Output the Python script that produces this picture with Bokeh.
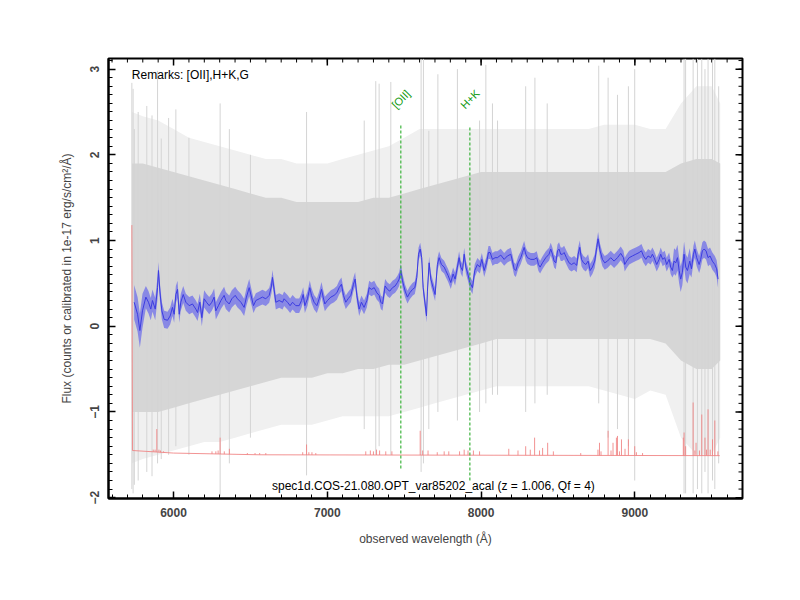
import numpy as np
from bokeh.plotting import figure
from bokeh.models import FixedTicker, Range1d, Label, ColumnDataSource
from bokeh.embed import file_html
from bokeh.resources import INLINE
from bokeh.core.properties import value

FONT = "Liberation Sans"

# ---------------- data ----------------
# smoothed spectrum (blue)
smooth_wave = [5744, 5766, 5781, 5798, 5820, 5837, 5852, 5863, 5881, 5896, 5902, 5911, 5924, 5939, 5961, 5978, 5993,
               6004, 6015, 6026, 6037, 6047, 6063, 6080, 6102, 6123, 6145, 6156, 6171, 6184, 6199, 6214, 6232, 6249,
               6264, 6275, 6292, 6308, 6329, 6340, 6362, 6379, 6401, 6416, 6438, 6459, 6474, 6492,
               6520, 6535, 6557, 6578, 6600, 6622, 6637, 6643, 6654, 6665, 6687, 6709, 6719, 6741, 6758, 6774, 6795,
               6817, 6832, 6843, 6854, 6871, 6886, 6897, 6914, 6932, 6947, 6962, 6973, 6984, 7001, 7023, 7044, 7062,
               7077, 7092, 7105, 7120, 7135, 7153, 7170, 7181, 7192, 7207, 7222, 7239, 7257, 7272, 7287, 7305, 7322,
               7337, 7348, 7359, 7376, 7391, 7406, 7424, 7441, 7456, 7467, 7478, 7489, 7506, 7521, 7536, 7554, 7569,
               7582, 7593, 7604, 7614, 7623, 7636, 7645, 7651, 7662, 7673, 7688, 7701, 7716, 7727, 7742, 7760, 7770,
               7786, 7803, 7818, 7831, 7846, 7857, 7868, 7879, 7890, 7901, 7914, 7927, 7944, 7959, 7976, 7992, 8005,
               8020, 8035, 8048, 8059, 8074, 8091, 8106, 8128, 8150, 8171, 8193, 8204, 8215, 8226, 8241, 8258, 8269,
               8280, 8291, 8302, 8323, 8345, 8362, 8373, 8384, 8399, 8421, 8442, 8453, 8464, 8475, 8486, 8497, 8507,
               8518, 8529, 8540, 8555, 8572, 8588, 8605, 8622, 8631, 8642, 8653, 8666, 8681, 8696, 8709, 8724, 8739,
               8752, 8761, 8774, 8789, 8804, 8822, 8843, 8865, 8887, 8908, 8926, 8934, 8947, 8963, 8984, 9006, 9028,
               9043, 9056, 9071, 9086, 9103, 9114, 9125, 9142, 9158, 9168, 9181, 9194, 9207, 9223, 9233, 9244, 9255,
               9266, 9277, 9288, 9298, 9309, 9320, 9331, 9342, 9357, 9368, 9381, 9390, 9402, 9418, 9428, 9439, 9450,
               9463, 9476, 9489, 9504, 9520, 9532, 9541]
smooth_flux = [0.28, 0.14, -0.05, 0.18, 0.34, 0.28, 0.20, 0.30, 0.20, 0.45, 0.65, 0.41, 0.18, 0.08, 0.07, 0.12, 0.22,
               0.14, 0.37, 0.43, 0.14, 0.28, 0.37, 0.28, 0.24, 0.26, 0.20, 0.16, 0.28, 0.10, 0.32, 0.28, 0.24, 0.28,
               0.34, 0.18, 0.24, 0.30, 0.36, 0.30, 0.26, 0.32, 0.36, 0.32, 0.28, 0.22, 0.34, 0.45,
               0.24, 0.30, 0.32, 0.34, 0.32, 0.36, 0.47, 0.57, 0.43, 0.28, 0.30, 0.28, 0.32, 0.28, 0.24, 0.28, 0.24,
               0.24, 0.30, 0.37, 0.24, 0.32, 0.45, 0.36, 0.28, 0.24, 0.32, 0.43, 0.34, 0.26, 0.30, 0.34, 0.36, 0.39,
               0.45, 0.49, 0.36, 0.28, 0.32, 0.36, 0.49, 0.55, 0.36, 0.20, 0.28, 0.22, 0.30, 0.45, 0.43, 0.45, 0.39,
               0.36, 0.28, 0.26, 0.47, 0.43, 0.41, 0.45, 0.47, 0.51, 0.55, 0.65, 0.53, 0.41, 0.34, 0.39, 0.43, 0.45,
               0.57, 0.84, 0.90, 0.80, 0.45, 0.26, 0.12, 0.41, 0.74, 0.55, 0.45, 0.37, 0.72, 0.80, 0.72, 0.69, 0.65,
               0.59, 0.51, 0.61, 0.55, 0.69, 0.80, 0.69, 0.65, 0.84, 0.69, 0.61, 0.51, 0.45, 0.65, 0.72, 0.69, 0.78,
               0.65, 0.74, 0.86, 0.86, 0.78, 0.80, 0.80, 0.83, 0.78, 0.82, 0.84, 0.76, 0.67, 0.65, 0.74, 0.80, 0.86,
               0.92, 0.84, 0.80, 0.78, 0.78, 0.80, 0.72, 0.69, 0.74, 0.80, 0.84, 0.90, 0.84, 0.76, 0.74, 0.88, 0.90,
               0.84, 0.84, 0.86, 0.80, 0.74, 0.72, 0.74, 0.71, 0.84, 0.92, 0.78, 0.74, 0.72, 0.76, 0.65, 0.69, 0.76,
               0.92, 1.02, 0.88, 0.78, 0.74, 0.76, 0.80, 0.76, 0.80, 0.85, 0.80, 0.72, 0.76, 0.80, 0.82, 0.84, 0.86,
               0.88, 0.82, 0.78, 0.82, 0.80, 0.84, 0.80, 0.72, 0.78, 0.84, 0.78, 0.80, 0.72, 0.78, 0.69, 0.65, 0.76,
               0.74, 0.80, 0.65, 0.55, 0.63, 0.84, 0.69, 0.65, 0.76, 0.67, 0.84, 0.90, 0.80, 0.72, 0.78, 0.88, 0.90,
               0.88, 0.80, 0.82, 0.76, 0.72, 0.67, 0.55]
# half-width of the blue band, per wavelength segment
err_edges = [5740, 5800, 5900, 6500, 7000, 7500, 8500, 9250, 9360, 9560]
err_values = [0.20, 0.13, 0.10, 0.085, 0.08, 0.075, 0.08, 0.15, 0.10]

# raw spectrum (grey): dense core and sparse outer envelope
grey_wave = [5730, 5800, 5900, 6000, 6100, 6200, 6300, 6400, 6500, 6600, 6700, 6800, 6900, 7000, 7100, 7200,
             7300, 7400, 7500, 7600, 7700, 7800, 7900, 8000, 8100, 8200, 8300, 8400, 8500, 8600, 8700, 8800,
             8900, 9000, 9100, 9200, 9300, 9400, 9500, 9555]
grey_core_lo = [-1.00, -1.00, -1.00, -0.95, -0.90, -0.85, -0.80, -0.75, -0.70, -0.65, -0.60, -0.60, -0.60, -0.55,
                -0.55, -0.50, -0.50, -0.45, -0.45, -0.40, -0.35, -0.30, -0.25, -0.20, -0.15, -0.15, -0.15, -0.15,
                -0.15, -0.15, -0.15, -0.15, -0.15, -0.15, -0.15, -0.20, -0.40, -0.50, -0.50, -0.40]
grey_core_hi = [1.90, 1.90, 1.85, 1.80, 1.75, 1.70, 1.65, 1.60, 1.55, 1.50, 1.50, 1.45, 1.45, 1.45, 1.45, 1.45,
                1.50, 1.50, 1.55, 1.60, 1.65, 1.70, 1.75, 1.80, 1.80, 1.80, 1.80, 1.80, 1.80, 1.80, 1.80, 1.80,
                1.80, 1.80, 1.80, 1.80, 1.90, 1.95, 1.95, 1.90]
grey_outer_lo = [-1.60, -1.55, -1.50, -1.45, -1.40, -1.35, -1.35, -1.30, -1.25, -1.20, -1.15, -1.15, -1.15, -1.10,
                 -1.05, -1.05, -1.05, -1.05, -1.00, -0.95, -0.90, -0.85, -0.80, -0.75, -0.70, -0.70, -0.70, -0.70,
                 -0.70, -0.70, -0.70, -0.75, -0.80, -0.85, -0.75, -0.80, -1.30, -1.50, -1.50, -1.30]
grey_outer_hi = [2.50, 2.45, 2.40, 2.30, 2.20, 2.15, 2.10, 2.05, 2.00, 1.95, 1.95, 1.90, 1.90, 1.90, 1.95, 2.00,
                 2.05, 2.10, 2.20, 2.30, 2.30, 2.30, 2.30, 2.30, 2.30, 2.30, 2.30, 2.30, 2.30, 2.30, 2.30, 2.35,
                 2.35, 2.35, 2.30, 2.30, 2.60, 2.80, 2.80, 2.60]
# isolated tall grey excursions
spike_wave = [5729, 5737, 5745, 5770, 5826, 5860, 5896, 5920, 5968, 6015, 6100, 6303, 6363, 6500, 6865, 7240,
              7315, 7337, 7413, 7610, 7625, 7660, 7719, 7846, 7990, 8031, 8074, 8107, 8290, 8350, 8430, 8765,
              8826, 8887, 8958, 8999, 9320, 9330, 9379, 9407, 9435, 9456, 9476, 9505, 9520, 9545]
spike_lo = [-1.90, -1.95, -1.85, -1.80, -1.70, -1.75, -1.60, -1.55, -1.50, -1.40, -1.50, -1.98, -1.60, -1.30,
            -1.74, -1.20, -1.50, -1.40, -1.50, -1.70, -1.60, -1.20, -1.00, -1.10, -1.00, -0.90, -0.80, -0.80,
            -1.00, -0.90, -0.80, -0.90, -1.30, -1.20, -1.40, -1.80, -1.95, -1.95, -1.95, -1.90, -1.95, -1.70,
            -1.95, -1.80, -1.90, -1.60]
spike_hi = [2.84, 2.77, 2.30, 2.50, 2.57, 2.46, 2.98, 2.19, 2.43, 2.53, 2.20, 2.60, 2.30, 2.00, 2.50, 2.40,
            2.86, 2.83, 2.85, 3.12, 3.12, 2.28, 2.94, 3.00, 2.40, 3.05, 2.60, 2.40, 2.80, 2.90, 2.60, 3.04,
            2.90, 2.70, 2.80, 3.00, 3.12, 3.12, 3.12, 3.12, 3.12, 3.00, 3.12, 3.10, 3.12, 2.80]

# sky spectrum (red): continuum and emission lines
sky_base_wave = [5729, 5733, 6000, 6560, 9552]
sky_base_flux = [1.18, -1.45, -1.48, -1.50, -1.51]
sky_line_wave = [5868, 5880, 5891, 5905, 5915, 5935, 6250, 6275, 6290, 6303, 6330, 6363, 6480, 6530, 6560, 6600,
                 6840, 6865, 6880, 6900, 6925, 7250, 7280, 7300, 7320, 7340, 7380, 7420, 7604, 7620, 7655, 7715,
                 7760, 7790, 7860, 7890, 7915, 7950, 7990, 8180, 8240, 8290, 8320, 8348, 8380, 8400, 8433, 8470,
                 8648, 8760, 8770, 8780, 8826, 8845, 8858, 8880, 8887, 8900, 8913, 8936, 8958, 8999, 9010, 9050,
                 9315, 9320, 9330, 9379, 9390, 9398, 9420, 9435, 9456, 9466, 9476, 9490, 9505, 9520, 9540]
sky_line_peak = [-1.44, -1.44, -1.20, -1.44, -1.45, -1.46, -1.46, -1.46, -1.45, -1.30, -1.46, -1.43, -1.48, -1.48,
                 -1.48, -1.48, -1.47, -1.38, -1.47, -1.47, -1.48, -1.46, -1.45, -1.46, -1.44, -1.45, -1.46, -1.46,
                 -1.22, -1.45, -1.45, -1.47, -1.46, -1.46, -1.46, -1.44, -1.45, -1.45, -1.46, -1.43, -1.45, -1.40,
                 -1.44, -1.30, -1.45, -1.42, -1.36, -1.46, -1.48, -1.44, -1.36, -1.46, -1.22, -1.45, -1.36, -1.30,
                 -1.28, -1.46, -1.32, -1.43, -1.32, -1.40, -1.47, -1.48, -1.30, -1.24, -1.40, -0.89, -1.45, -1.36,
                 -1.45, -1.03, -1.30, -1.44, -0.97, -1.44, -1.32, -1.10, -1.46]

# identified lines
line_names = ["[OII]", "H+K"]
line_wave = [7478, 7927]
line_top = [2.36, 2.34]
line_bottom = [-1.66, -1.80]

x_ticks = [6000, 7000, 8000, 9000]
y_ticks = [-2, -1, 0, 1, 2, 3]
title_text = "spec1d.COS-21.080.OPT_var85202_acal (z = 1.006, Qf = 4)"
remarks_text = "Remarks: [OII],H+K,G"
x_label = "observed wavelength (Å)"
y_label = "Flux (counts or calibrated in 1e-17 erg/s/cm²/Å)"

# ---------------- figure ----------------
X0, X1 = 5577, 9700
Y0, Y1 = -2.01, 3.124
FW, FH = 634, 440
p = figure(width=792, height=592, x_range=Range1d(X0, X1), y_range=Range1d(Y0, Y1),
           output_backend="svg", toolbar_location=None,
           min_border_left=108, min_border_right=50, min_border_top=58, min_border_bottom=94)
p.grid.visible = False
p.outline_line_color = "black"
p.outline_line_width = 2
p.background_fill_color = "white"

x_minor = list(np.arange(5600, 9701, 100))
y_minor = list(np.round(np.arange(-2.0, 3.15, 0.1), 2))
xt = FixedTicker(ticks=x_ticks, minor_ticks=x_minor)
yt = FixedTicker(ticks=y_ticks, minor_ticks=y_minor)

for ax in (p.xaxis[0], p.yaxis[0]):
    ax.axis_line_width = 2
    ax.axis_line_color = "black"
    ax.major_tick_in = 7
    ax.major_tick_out = 0
    ax.minor_tick_in = 4
    ax.minor_tick_out = 0
    ax.major_tick_line_width = 1.5
    ax.minor_tick_line_width = 1
    ax.major_label_text_font = FONT
    ax.major_label_text_font_style = "bold"
    ax.major_label_text_font_size = "12px"
    ax.axis_label_text_font = FONT
    ax.axis_label_text_font_style = "normal"
    ax.axis_label_text_font_size = "12px"

p.xaxis.ticker = xt
p.yaxis.ticker = yt
p.xaxis.axis_label = x_label
p.yaxis.axis_label = y_label
p.xaxis.major_label_standoff = 9
p.yaxis.major_label_standoff = 9
p.xaxis.axis_label_standoff = 12
p.yaxis.axis_label_standoff = 14
p.yaxis.major_label_orientation = "parallel"

# mirrored inward ticks on the top and right frame edges
dx = (X1 - X0) / FW
dy = (Y1 - Y0) / FH
p.segment(x0=x_ticks, y0=[Y1] * len(x_ticks), x1=x_ticks, y1=[Y1 - 7 * dy] * len(x_ticks),
          line_color="black", line_width=1.5)
p.segment(x0=x_minor, y0=[Y1] * len(x_minor), x1=x_minor, y1=[Y1 - 4 * dy] * len(x_minor),
          line_color="black", line_width=1)
p.segment(x0=[X1] * len(y_ticks), y0=y_ticks, x1=[X1 - 7 * dx] * len(y_ticks), y1=y_ticks,
          line_color="black", line_width=1.5)
p.segment(x0=[X1] * len(y_minor), y0=y_minor, x1=[X1 - 4 * dx] * len(y_minor), y1=y_minor,
          line_color="black", line_width=1)

# grey raw spectrum
p.varea(x=grey_wave, y1=grey_outer_lo, y2=grey_outer_hi, fill_color="#f0f0f0")
p.varea(x=grey_wave, y1=grey_core_lo, y2=grey_core_hi, fill_color="#d6d6d6")
p.segment(x0=spike_wave, y0=spike_lo, x1=spike_wave, y1=spike_hi, line_color="#d4d4d4", line_width=1)

# sky
p.line(sky_base_wave, sky_base_flux, line_color="#f08080", line_alpha=0.85, line_width=1)
foot = np.interp(sky_line_wave, sky_base_wave[1:], sky_base_flux[1:])
p.segment(x0=sky_line_wave, y0=foot, x1=sky_line_wave, y1=sky_line_peak, line_color="#f08080",
          line_alpha=0.85, line_width=1)

# smoothed spectrum with band
sw = np.array(smooth_wave, dtype=float)
sf = np.array(smooth_flux)
idx = np.clip(np.searchsorted(err_edges, sw, side="right") - 1, 0, len(err_values) - 1)
se = np.array(err_values)[idx]
p.varea(x=sw, y1=sf - se, y2=sf + se, fill_color="blue", fill_alpha=0.36)
p.line(sw, sf, line_color="#3c3ce0", line_width=1)

# identified lines
p.segment(x0=line_wave, y0=line_bottom, x1=line_wave, y1=line_top,
          line_color="#3cb43c", line_width=1.2, line_dash="3 2")
lsrc = ColumnDataSource(dict(x=line_wave, y=[2.65] * len(line_wave), t=line_names))
p.text(x="x", y="y", text="t", source=lsrc, angle=0.8, text_align="center", text_baseline="middle",
       text_color="#109a10", text_font=value(FONT), text_font_size="11px")

p.add_layout(Label(x=5729, y=2.93, text=remarks_text, text_align="left", text_baseline="middle",
                   text_font=FONT, text_font_size="12px", text_color="black"))
p.add_layout(Label(x=7690, y=-1.86, text=title_text, text_align="center", text_baseline="middle",
                   text_font=FONT, text_font_size="12px", text_color="black"))

open("out.html", "w").write(file_html(p, INLINE))
